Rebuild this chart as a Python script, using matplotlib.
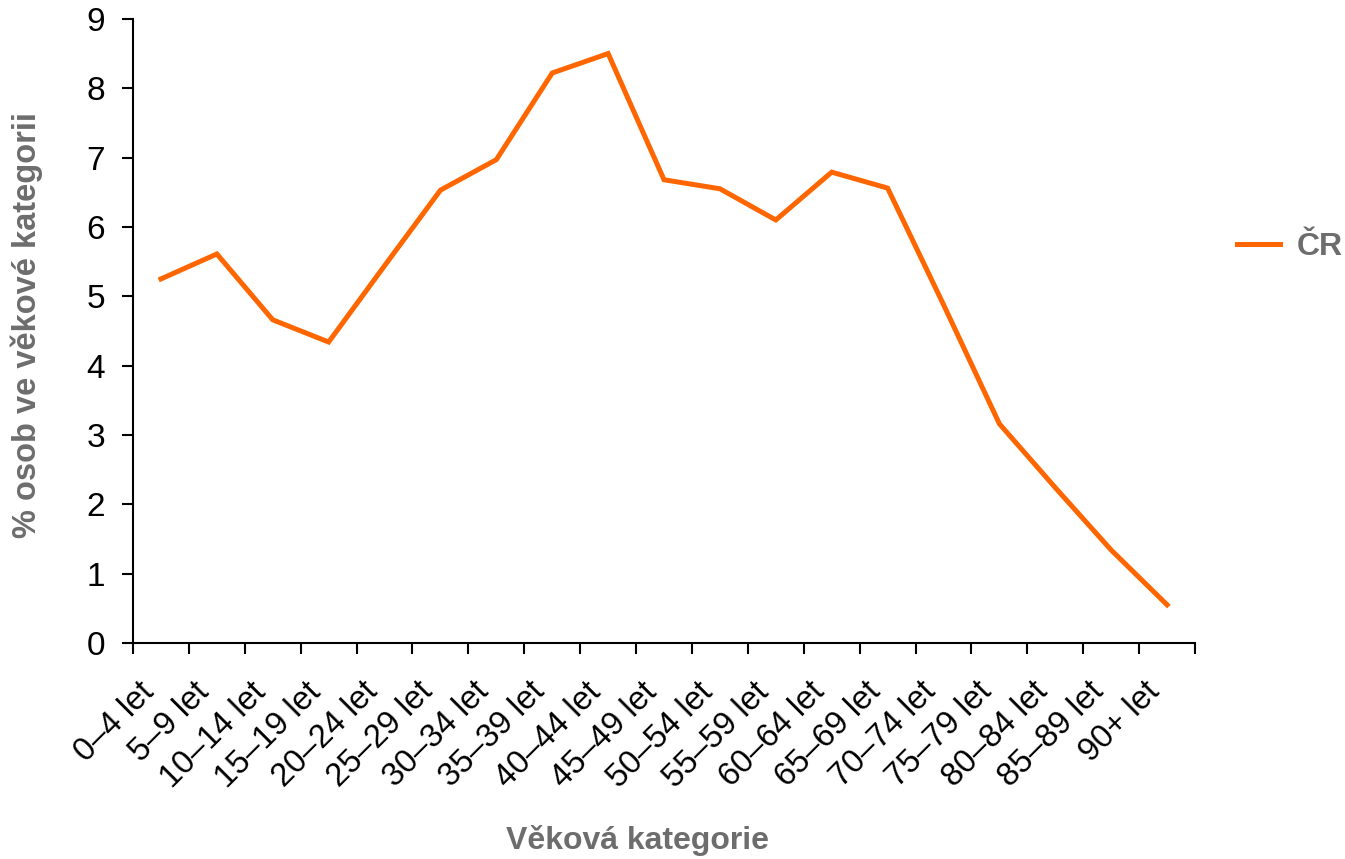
import matplotlib

matplotlib.use("Agg")
import matplotlib.pyplot as plt
import matplotlib.transforms as mtransforms
import numpy as np

categories = ["0–4 let", "5–9 let", "10–14 let", "15–19 let", "20–24 let",
              "25–29 let", "30–34 let", "35–39 let", "40–44 let", "45–49 let",
              "50–54 let", "55–59 let", "60–64 let", "65–69 let", "70–74 let",
              "75–79 let", "80–84 let", "85–89 let", "90+ let"]
cr_values = [5.25, 5.61, 4.66, 4.34, 5.44, 6.53, 6.97, 8.22, 8.50, 6.68,
             6.55, 6.10, 6.79, 6.56, 4.88, 3.16, 2.24, 1.34, 0.55]
y_ticks = [0, 1, 2, 3, 4, 5, 6, 7, 8, 9]

plt.rcParams["font.family"] = ["Liberation Sans", "DejaVu Sans"]
GRAY = "#6d6d6d"
ORANGE = "#ff6600"

fig = plt.figure(figsize=(13.45, 8.59), dpi=100)
ax = fig.add_axes([0.0989, 0.2515, 0.7896, 0.7265])

x = np.arange(len(categories)) + 0.5
ax.plot(x, cr_values, color=ORANGE, lw=3.6, label="ČR", solid_joinstyle="miter")

ax.set_xlim(0, len(categories))
ax.set_ylim(0, 9)
ax.set_yticks(y_ticks)
ax.set_xticks(np.arange(len(categories) + 1))
ax.set_xticklabels([])
ax.set_xticks(x, minor=True)
ax.set_xticklabels(categories, minor=True, rotation=45, ha="right",
                   va="center", rotation_mode="anchor")
ax.tick_params(axis="x", which="minor", length=0, pad=32, labelsize=23.5)
ax.tick_params(axis="both", which="major", direction="out", length=8,
               width=1.5, labelsize=24)
ax.tick_params(axis="y", pad=12)

# nudge the rotated category labels a bit to the left, like the original
shift = mtransforms.ScaledTranslation(-0.12, 0, fig.dpi_scale_trans)
for lbl in ax.get_xticklabels(minor=True):
    lbl.set_transform(lbl.get_transform() + shift)

for s in ("top", "right"):
    ax.spines[s].set_visible(False)
for s in ("left", "bottom"):
    ax.spines[s].set_linewidth(1.5)

ax.set_ylabel("% osob ve věkové kategorii", fontsize=23.5, fontweight="bold",
              color=GRAY, va="center")
ax.yaxis.set_label_coords(-0.0998, 0.51)
ax.set_xlabel("Věková kategorie", fontsize=23, fontweight="bold",
              color=GRAY, va="center")
ax.xaxis.set_label_coords(0.4746, -0.316)

leg = fig.legend(loc="center left", bbox_to_anchor=(0.9197, 0.7125),
                 frameon=False, fontsize=23, handlelength=1.35,
                 handletextpad=0.53, borderpad=0, borderaxespad=0)
for t in leg.get_texts():
    t.set_color(GRAY)
    t.set_fontweight("bold")

fig.savefig("out.png", dpi=100)
